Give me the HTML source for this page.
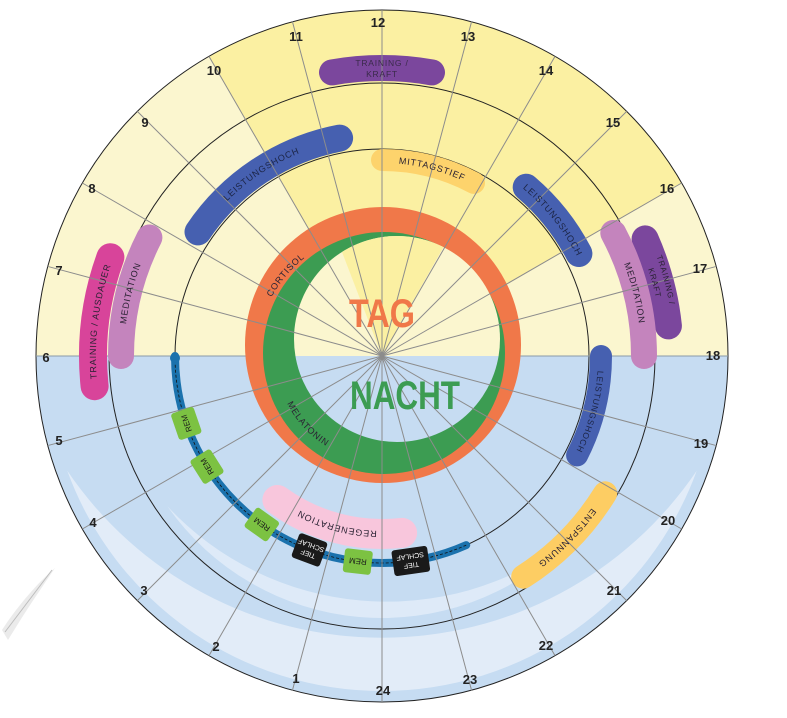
<!DOCTYPE html>
<html><head><meta charset="utf-8"><style>
html,body{margin:0;padding:0;background:#fff;width:787px;height:718px;overflow:hidden}
svg{display:block}
text{font-family:"Liberation Sans",sans-serif}
</style></head><body>
<svg width="787" height="718" viewBox="0 0 787 718" xmlns="http://www.w3.org/2000/svg">
<defs>
<path id="tMag" d="M100.3,405.7 A286,286 0 0 1 120.7,239.7"/>
<path id="tLilL" d="M124.2,365 A258,258 0 0 1 158.6,227"/>
<path id="tLilR" d="M601.6,218.8 A259,259 0 0 1 640.4,374.1"/>
<path id="tPur1" d="M634.9,210 A292,292 0 0 1 674,356"/>
<path id="tPur2" d="M624.5,216 A280,280 0 0 1 662,356"/>
<path id="tBlueL" d="M188.6,253.2 A219,219 0 0 1 362.9,137.8"/>
<path id="tMit" d="M365.2,163.7 A193,193 0 0 1 492.7,197.9"/>
<path id="tBlueR" d="M507.6,176.6 A219,219 0 0 1 585.1,274"/>
<path id="tBlueLR" d="M597.9,348.5 A216,216 0 0 1 565.2,470.5"/>
<path id="tEnt" d="M610.7,477.6 A259,259 0 0 1 507.6,582.5"/>
<path id="tReg" d="M427.3,525 A175,175 0 0 1 258.3,479.7"/>
<path id="tCort" d="M264.5,313.2 A125,125 0 0 1 319.5,247.7"/>
<path id="tMel" d="M282.4,392.3 A106,106 0 0 0 337.2,452.1"/>
<clipPath id="topc"><rect x="0" y="0" width="787" height="356"/></clipPath>
<clipPath id="botc"><rect x="0" y="356" width="787" height="362"/></clipPath>
<clipPath id="innerc"><circle cx="397" cy="339" r="103"/></clipPath>
</defs>

<!-- feather left -->
<path d="M2,630 C15,610 35,585 55,568 C40,590 25,612 8,640 Z" fill="#e6e6e6" opacity="0.8"/>
<path d="M5,632 L52,570" stroke="#bdbdbd" stroke-width="1"/>

<!-- backgrounds -->
<path d="M36,356 A346,346 0 0 1 728,356 Z" fill="#fbf6cf"/>
<path d="M382,356 L209,56.4 A346,346 0 0 1 681.6,183 Z" fill="#fbf0a2"/>
<path d="M36,356 A346,346 0 0 0 728,356 Z" fill="#c6dcf2"/>
<path d="M67.2,470.6 A335,335 0 0 0 696.8,470.6 A380,380 0 0 1 67.2,470.6 Z" fill="#e6eff9" opacity="0.85"/>
<path d="M167.4,506.3 A262,262 0 0 0 567.3,541.3 A300,300 0 0 1 167.4,506.3 Z" fill="#e6eff9" opacity="0.75"/>

<!-- circles -->
<circle cx="382" cy="356" r="346" fill="none" stroke="#222" stroke-width="1"/>
<circle cx="382" cy="356" r="273" fill="none" stroke="#222" stroke-width="1"/>
<circle cx="382" cy="356" r="207" fill="none" stroke="#222" stroke-width="1"/>
<line x1="36" y1="356" x2="728" y2="356" stroke="#8a9aa8" stroke-width="1"/>

<!-- cortisol / melatonin -->
<circle cx="383" cy="345" r="138" fill="#f07849"/>
<circle cx="384" cy="353" r="121" fill="#3c9c52"/>
<circle cx="397" cy="339" r="103" fill="#fbf6cf" clip-path="url(#topc)"/>
<circle cx="397" cy="339" r="103" fill="#c6dcf2" clip-path="url(#botc)"/>
<path d="M382,356 L322,200 L470,200 Z" fill="#fbf0a2" clip-path="url(#innerc)"/>

<!-- bands -->
<g fill="none" stroke-linecap="round">
<path d="M332,72.4 A288,288 0 0 1 432,72.4" stroke="#7b479d" stroke-width="26"/>
<path d="M645.1,238.9 A288,288 0 0 1 668.4,325.9" stroke="#7b479d" stroke-width="27"/>
<path d="M94.6,386.2 A289,289 0 0 1 110.4,257.2" stroke="#d8449a" stroke-width="28"/>
<path d="M121,356 A261,261 0 0 1 149.4,237.5" stroke="#c484bd" stroke-width="26"/>
<path d="M613.3,233 A262,262 0 0 1 644,356" stroke="#c484bd" stroke-width="26"/>
<path d="M198,231.9 A222,222 0 0 1 339.6,138.1" stroke="#4660b0" stroke-width="27"/>
<path d="M382,160 A196,196 0 0 1 474,182.9" stroke="#fdd36c" stroke-width="22"/>
<path d="M526.2,187.2 A222,222 0 0 1 578.9,253.5" stroke="#4660b0" stroke-width="27"/>
<path d="M601,356 A219,219 0 0 1 577.1,455.4" stroke="#4660b0" stroke-width="22"/>
<path d="M605.2,493.3 A262,262 0 0 1 523.2,576.7" stroke="#fdcd63" stroke-width="24"/>
<path d="M402.1,532.9 A178,178 0 0 1 277.4,500" stroke="#f8c6dc" stroke-width="30"/>
<path d="M466.2,545.1 A207,207 0 0 1 175,356" stroke="#1b72ad" stroke-width="8"/>
<path d="M466.2,545.1 A207,207 0 0 1 175,356" stroke="#111" stroke-width="0.8" stroke-dasharray="3 2" stroke-linecap="butt"/>
</g>
<circle cx="175" cy="358" r="5" fill="#1b72ad"/>

<!-- hour lines -->
<g stroke="#8c8c8c" stroke-width="1">
<line x1="382" y1="356" x2="382" y2="10" transform="rotate(0 382 356)"/>
<line x1="382" y1="356" x2="382" y2="10" transform="rotate(15 382 356)"/>
<line x1="382" y1="356" x2="382" y2="10" transform="rotate(30 382 356)"/>
<line x1="382" y1="356" x2="382" y2="10" transform="rotate(45 382 356)"/>
<line x1="382" y1="356" x2="382" y2="10" transform="rotate(60 382 356)"/>
<line x1="382" y1="356" x2="382" y2="10" transform="rotate(75 382 356)"/>
<line x1="382" y1="356" x2="382" y2="10" transform="rotate(105 382 356)"/>
<line x1="382" y1="356" x2="382" y2="10" transform="rotate(120 382 356)"/>
<line x1="382" y1="356" x2="382" y2="10" transform="rotate(135 382 356)"/>
<line x1="382" y1="356" x2="382" y2="10" transform="rotate(150 382 356)"/>
<line x1="382" y1="356" x2="382" y2="10" transform="rotate(165 382 356)"/>
<line x1="382" y1="356" x2="382" y2="10" transform="rotate(180 382 356)"/>
<line x1="382" y1="356" x2="382" y2="10" transform="rotate(195 382 356)"/>
<line x1="382" y1="356" x2="382" y2="10" transform="rotate(210 382 356)"/>
<line x1="382" y1="356" x2="382" y2="10" transform="rotate(225 382 356)"/>
<line x1="382" y1="356" x2="382" y2="10" transform="rotate(240 382 356)"/>
<line x1="382" y1="356" x2="382" y2="10" transform="rotate(255 382 356)"/>
<line x1="382" y1="356" x2="382" y2="10" transform="rotate(285 382 356)"/>
<line x1="382" y1="356" x2="382" y2="10" transform="rotate(300 382 356)"/>
<line x1="382" y1="356" x2="382" y2="10" transform="rotate(315 382 356)"/>
<line x1="382" y1="356" x2="382" y2="10" transform="rotate(330 382 356)"/>
<line x1="382" y1="356" x2="382" y2="10" transform="rotate(345 382 356)"/>
</g>

<!-- sleep boxes -->
<g font-size="8" text-anchor="middle">
<g transform="translate(186.3,423.4) rotate(251)"><rect x="-14" y="-12" width="28" height="24" rx="3" fill="#7cc242"/><text x="0" y="3" fill="#1a1a1a">REM</text></g>
<g transform="translate(207,466.6) rotate(237.7)"><rect x="-14" y="-12" width="28" height="24" rx="3" fill="#7cc242"/><text x="0" y="3" fill="#1a1a1a">REM</text></g>
<g transform="translate(261.8,524.5) rotate(215.5)"><rect x="-14" y="-12" width="28" height="24" rx="3" fill="#7cc242"/><text x="0" y="3" fill="#1a1a1a">REM</text></g>
<g transform="translate(357.8,561.6) rotate(186.7)"><rect x="-14" y="-12" width="28" height="24" rx="3" fill="#7cc242"/><text x="0" y="3" fill="#1a1a1a">REM</text></g>
<g transform="translate(309.5,549.9) rotate(200.5)" font-size="7"><rect x="-15" y="-13" width="30" height="26" rx="3" fill="#1a1a1a"/><text x="0" y="-2" fill="#fff">TIEF</text><text x="0" y="7" fill="#fff">SCHLAF</text></g>
<g transform="translate(410.8,561) rotate(172)" font-size="7"><rect x="-18" y="-13" width="36" height="26" rx="3" fill="#1a1a1a"/><text x="0" y="-2" fill="#fff">TIEF</text><text x="0" y="7" fill="#fff">SCHLAF</text></g>
</g>

<!-- band labels -->
<g font-size="9" letter-spacing="0.8" fill="#2a2233" text-anchor="middle">
<text x="382" y="66" font-size="8.5" fill="#3a2a4a">TRAINING /</text>
<text x="382" y="77" font-size="8.5" fill="#3a2a4a">KRAFT</text>
<text><textPath href="#tMag" startOffset="50%">TRAINING / AUSDAUER</textPath></text>
<text><textPath href="#tLilL" startOffset="50%">MEDITATION</textPath></text>
<text><textPath href="#tLilR" startOffset="50%">MEDITATION</textPath></text>
<text font-size="8"><textPath href="#tPur1" startOffset="50%">TRAINING /</textPath></text>
<text font-size="8"><textPath href="#tPur2" startOffset="50%">KRAFT</textPath></text>
<text fill="#1c2546"><textPath href="#tBlueL" startOffset="50%">LEISTUNGSHOCH</textPath></text>
<text><textPath href="#tMit" startOffset="50%">MITTAGSTIEF</textPath></text>
<text fill="#1c2546"><textPath href="#tBlueR" startOffset="50%">LEISTUNGSHOCH</textPath></text>
<text fill="#1c2546" font-size="8.5"><textPath href="#tBlueLR" startOffset="50%">LEISTUNGSHOCH</textPath></text>
<text><textPath href="#tEnt" startOffset="50%">ENTSPANNUNG</textPath></text>
<text><textPath href="#tReg" startOffset="50%">REGENERATION</textPath></text>
<text><textPath href="#tCort" startOffset="50%">CORTISOL</textPath></text>
<text><textPath href="#tMel" startOffset="50%">MELATONIN</textPath></text>
</g>

<!-- TAG / NACHT -->
<text x="382" y="327" font-size="40" font-weight="bold" fill="#f07849" text-anchor="middle" textLength="66" lengthAdjust="spacingAndGlyphs">TAG</text>
<text x="405" y="409" font-size="40" font-weight="bold" fill="#3c9c52" text-anchor="middle" textLength="110" lengthAdjust="spacingAndGlyphs">NACHT</text>

<!-- hour labels -->
<g font-size="13" font-weight="bold" fill="#222" text-anchor="middle">
<text x="378" y="27">12</text>
<text x="296" y="41">11</text>
<text x="468" y="41">13</text>
<text x="214" y="75">10</text>
<text x="546" y="75">14</text>
<text x="145" y="127">9</text>
<text x="613" y="127">15</text>
<text x="92" y="193">8</text>
<text x="667" y="193">16</text>
<text x="59" y="275">7</text>
<text x="700" y="273">17</text>
<text x="46" y="362">6</text>
<text x="713" y="360">18</text>
<text x="59" y="445">5</text>
<text x="701" y="448">19</text>
<text x="93" y="527">4</text>
<text x="668" y="525">20</text>
<text x="144" y="595">3</text>
<text x="614" y="595">21</text>
<text x="216" y="651">2</text>
<text x="546" y="650">22</text>
<text x="296" y="683">1</text>
<text x="470" y="684">23</text>
<text x="383" y="695">24</text>
</g>
</svg>
</body></html>
